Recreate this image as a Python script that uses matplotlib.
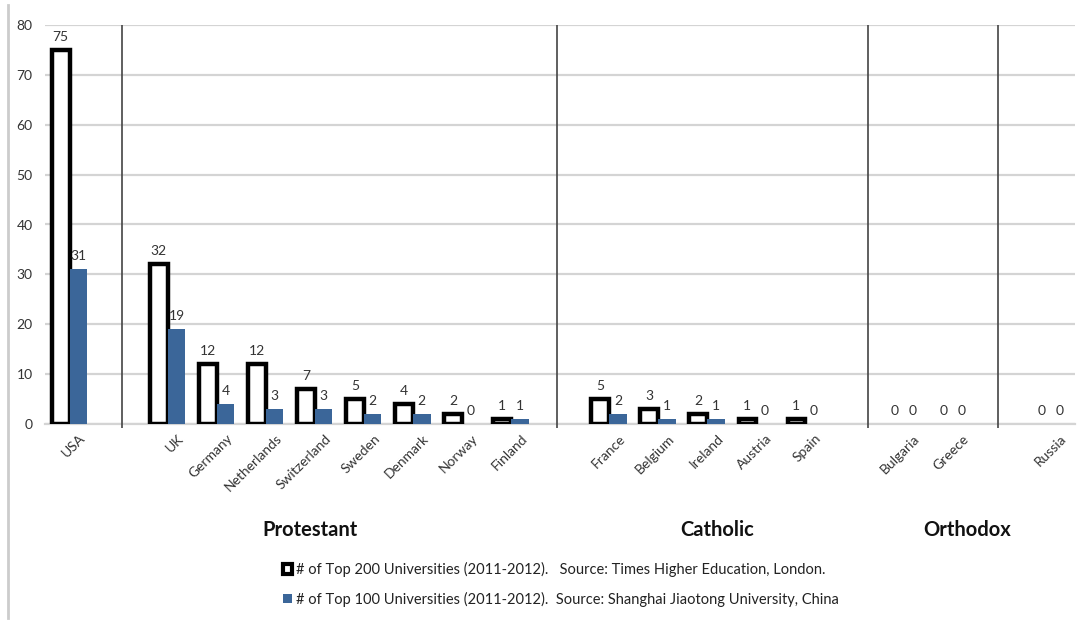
import numpy as np
import matplotlib.pyplot as plt
from matplotlib.patches import Patch
from matplotlib.lines import Line2D

plt.rcParams['font.family'] = ['Lato', 'DejaVu Sans']

countries = ['USA', 'UK', 'Germany', 'Netherlands', 'Switzerland', 'Sweden', 'Denmark',
             'Norway', 'Finland', 'France', 'Belgium', 'Ireland', 'Austria', 'Spain',
             'Bulgaria', 'Greece', 'Russia']
block = [0, 1, 1, 1, 1, 1, 1, 1, 1, 2, 2, 2, 2, 2, 3, 3, 4]
top200 = [75, 32, 12, 12, 7, 5, 4, 2, 1, 5, 3, 2, 1, 1, 0, 0, 0]
top100 = [31, 19, 4, 3, 3, 2, 2, 0, 1, 2, 1, 1, 0, 0, 0, 0, 0]
group_names = ['Protestant', 'Catholic', 'Orthodox']
group_x = [4.9, 13.2, 18.3]
separators = [1.08, 9.94, 16.27, 18.92]

label_200 = '# of Top 200 Universities (2011-2012).   Source: Times Higher Education, London.'
label_100 = '# of Top 100 Universities (2011-2012).  Source: Shanghai Jiaotong University, China'

blue = '#3b6699'
pos = np.arange(len(countries)) + np.array(block)

fig = plt.figure(figsize=(10.92, 6.21), dpi=100)
ax = fig.add_axes([45/1092, 1 - 424/621, 1030/1092, 399/621])

w = 0.36
b1 = ax.bar(pos - w/2, top200, width=w, color='white', edgecolor='black', linewidth=3.2, zorder=3)
b2 = ax.bar(pos + w/2, top100, width=w, color=blue, edgecolor='none', zorder=3)
for bars, vals in [(b1, top200), (b2, top100)]:
    for r, v in zip(bars, vals):
        if v == 0:
            r.set_visible(False)
        ax.annotate(str(v), (r.get_x() + r.get_width()/2, v), xytext=(0, 5),
                    textcoords='offset points', ha='center', va='bottom',
                    fontsize=10, color='#333333')

ax.set_xlim(-0.5, 20.5)
ax.set_ylim(0, 80)
ax.set_yticks(np.arange(0, 81, 10))
ax.yaxis.grid(True, color='#d4d4d4', lw=1.6, zorder=0)
ax.set_axisbelow(True)
for s in ['top', 'right', 'left']:
    ax.spines[s].set_visible(False)
ax.spines['bottom'].set_color('#d4d4d4')
ax.spines['bottom'].set_linewidth(1.6)
ax.tick_params(length=0, labelsize=10, labelcolor='#333333')
ax.tick_params('y', pad=9)
ax.set_xticks(pos + 0.2)
ax.set_xticklabels(countries, rotation=45, ha='right', va='top', rotation_mode='anchor')
ax.tick_params('x', pad=6)

ax.vlines(separators, -0.8, 80, color='#444444', lw=1.2, clip_on=False, zorder=4)

for name, gx in zip(group_names, group_x):
    ax.text(gx, -0.265, name, transform=ax.get_xaxis_transform(), ha='center', va='center',
            fontsize=14.5, fontweight='bold', color='#111111')

handles = [Patch(facecolor='white', edgecolor='black', linewidth=3),
           Patch(facecolor=blue, edgecolor='none')]
fig.legend(handles, [label_200, label_100], loc='upper left', bbox_to_anchor=(270/1092, 1 - 549/621),
           frameon=False, fontsize=10.5, handlelength=0.6, handleheight=0.6, handletextpad=0.3,
           labelspacing=1.0, labelcolor='#222222')

fig.add_artist(Line2D([8/1092, 8/1092], [1 - 5/621, 1 - 618/621], color='#cccccc', lw=2))

plt.savefig('out.png', dpi=100)
